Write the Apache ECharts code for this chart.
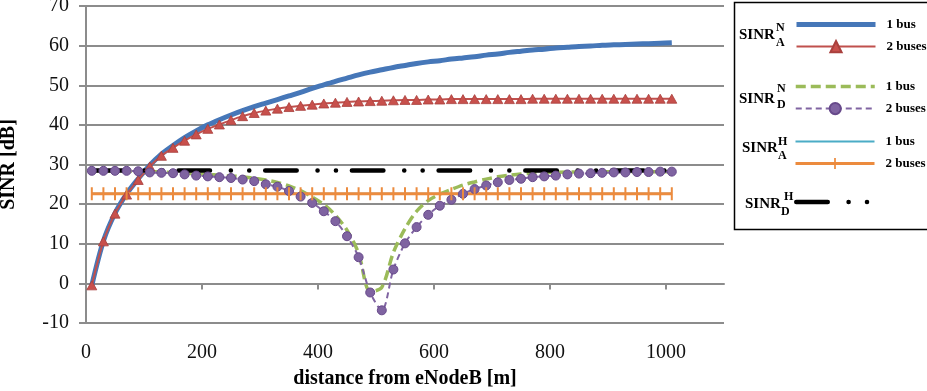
<!DOCTYPE html>
<html>
<head>
<meta charset="utf-8">
<script src="https://cdn.jsdelivr.net/npm/echarts@6/dist/echarts.min.js"></script>
<style>
  html, body { margin: 0; padding: 0; background: #fff; }
  #chart { width: 927px; height: 391px; }
</style>
</head>
<body>
<div id="chart"></div>
<script>
// distance from eNodeB [m]
const distance = [10, 30, 50, 70, 90, 110, 130, 150, 170, 190, 210, 230, 250, 270, 290, 310, 330, 350, 370, 390,
  410, 430, 450, 470, 490, 510, 530, 550, 570, 590, 610, 630, 650, 670, 690, 710, 730, 750, 770, 790,
  810, 830, 850, 870, 890, 910, 930, 950, 970, 990, 1010]

const xTicks = [0, 200, 400, 600, 800, 1000]

// SINR values [dB]
const sinrAN1 = [-0.5, 10.7, 17.7, 22.6, 26.4, 29.8, 32.6, 34.8, 36.8, 38.5, 40.0, 41.3, 42.5, 43.6, 44.6, 45.5, 46.4, 47.3, 48.2, 49.2,
  50.1, 51.0, 51.8, 52.6, 53.3, 53.9, 54.5, 55.0, 55.5, 55.9, 56.2, 56.6, 56.9, 57.2, 57.6, 57.9, 58.3, 58.6, 58.9, 59.1,
  59.4, 59.6, 59.8, 59.9, 60.1, 60.2, 60.3, 60.4, 60.5, 60.6, 60.7]
const sinrAN2 = [-0.5, 10.6, 17.6, 22.4, 26.1, 29.5, 32.2, 34.2, 36.0, 37.6, 39.0, 40.1, 41.2, 42.2, 43.0, 43.6, 44.1, 44.5, 44.8, 45.1,
  45.4, 45.6, 45.8, 45.9, 46.0, 46.1, 46.2, 46.3, 46.3, 46.4, 46.4, 46.5, 46.5, 46.5, 46.5, 46.5, 46.5, 46.5, 46.6, 46.6,
  46.6, 46.6, 46.6, 46.6, 46.6, 46.6, 46.6, 46.6, 46.6, 46.6, 46.6]
const sinrDN1 = [28.4, 28.4, 28.4, 28.3, 28.3, 28.2, 28.1, 28.0, 27.8, 27.7, 27.5, 27.3, 27.1, 26.9, 26.5, 26.1, 25.5, 24.6, 23.4, 21.8,
  19.9, 17.2, 13.4, 7.6, -2.1, -1.0, 7.8, 13.8, 18.2, 20.9, 22.5, 23.7, 24.8, 25.6, 26.3, 26.9, 27.3, 27.6, 27.8, 27.9,
  28.0, 28.1, 28.1, 28.1, 28.2, 28.2, 28.2, 28.2, 28.2, 28.2, 28.2]
const sinrDN2 = [28.4, 28.4, 28.4, 28.4, 28.3, 28.0, 27.9, 27.8, 27.5, 27.2, 27.0, 26.8, 26.6, 26.2, 25.8, 25.0, 24.4, 23.3, 21.9, 20.3,
  18.2, 15.7, 11.9, 6.6, -2.3, -6.8, 3.5, 10.1, 14.2, 17.3, 19.6, 21.1, 22.6, 23.8, 24.7, 25.5, 26.1, 26.4, 26.8, 27.0,
  27.2, 27.5, 27.7, 27.8, 27.9, 28.0, 28.0, 28.1, 28.1, 28.2, 28.2]
const sinrAH1 = [22.6, 22.6, 22.6, 22.6, 22.6, 22.6, 22.6, 22.6, 22.6, 22.6, 22.6, 22.6, 22.6, 22.6, 22.6, 22.6, 22.6, 22.6, 22.6, 22.6,
  22.6, 22.6, 22.6, 22.6, 22.6, 22.6, 22.6, 22.6, 22.6, 22.6, 22.6, 22.6, 22.6, 22.6, 22.6, 22.6, 22.6, 22.6, 22.6, 22.6,
  22.6, 22.6, 22.6, 22.6, 22.6, 22.6, 22.6, 22.6, 22.6, 22.6, 22.6]
const sinrAH2 = [22.6, 22.6, 22.6, 22.6, 22.6, 22.6, 22.6, 22.6, 22.6, 22.6, 22.6, 22.6, 22.6, 22.6, 22.6, 22.6, 22.6, 22.6, 22.6, 22.6,
  22.6, 22.6, 22.6, 22.6, 22.6, 22.6, 22.6, 22.6, 22.6, 22.6, 22.6, 22.6, 22.6, 22.6, 22.6, 22.6, 22.6, 22.6, 22.6, 22.6,
  22.6, 22.6, 22.6, 22.6, 22.6, 22.6, 22.6, 22.6, 22.6, 22.6, 22.6]
const sinrDH = [28.5, 28.5, 28.5, 28.5, 28.5, 28.5, 28.5, 28.5, 28.5, 28.5, 28.5, 28.5, 28.5, 28.5, 28.5, 28.5, 28.5, 28.5, 28.5, 28.5,
  28.5, 28.5, 28.5, 28.5, 28.5, 28.5, 28.5, 28.5, 28.5, 28.5, 28.5, 28.5, 28.5, 28.5, 28.5, 28.5, 28.5, 28.5, 28.5, 28.5,
  28.5, 28.5, 28.5, 28.5, 28.5, 28.5, 28.5, 28.5, 28.5, 28.5, 28.5]

const legendText = {
  'AN 1': '1 bus', 'AN 2': '2 buses',
  'DN 1': '1 bus', 'DN 2': '2 buses',
  'AH 1': '1 bus', 'AH 2': '2 buses',
  'DH': ''
}

const serif = '"Liberation Serif", "Times New Roman", serif'
const gridGray = '#8c8c8c'

const pairs = (vals) => distance.map((d, i) => [d, vals[i]])

const chart = echarts.init(document.getElementById('chart'))

// one legend block per SINR group, the symbol is hidden for plain lines
const legendBlock = (top, items) => ({
  orient: 'vertical',
  left: 794,
  top: top,
  padding: 0,
  itemWidth: 79,
  itemHeight: 14,
  itemGap: 9,
  selectedMode: false,
  lineStyle: { width: 'inherit' },
  data: items.map(([name, marker]) => marker ? { name } : { name, itemStyle: { opacity: 0 } }),
  formatter: (name) => legendText[name],
  textStyle: { fontFamily: serif, fontWeight: 'bold', fontSize: 13, color: '#000', padding: [0, 0, 0, 6] }
})

const label = (text, x, y, size) => ({
  type: 'text',
  style: { text, x, y, font: 'bold ' + size + 'px ' + serif, fill: '#000', align: 'left', verticalAlign: 'middle' }
})

const option = {
  animation: false,
  grid: { left: 86, right: 203, top: 6, bottom: 68, containLabel: false, outerBoundsMode: 'none' },
  xAxis: [
    {
      type: 'value', min: 0, max: 1100, interval: 200,
      axisLine: { onZero: true, lineStyle: { color: gridGray, width: 2 } },
      axisTick: { show: true, length: 6, customValues: xTicks, lineStyle: { color: gridGray, width: 2 } },
      axisLabel: { show: false },
      splitLine: { show: false }
    },
    {
      type: 'value', min: 0, max: 1100, interval: 200, position: 'bottom',
      axisLine: { show: false, onZero: false },
      axisTick: { show: false },
      axisLabel: {
        customValues: xTicks, margin: 20, fontFamily: serif, fontSize: 20, color: '#111',
        formatter: (v) => String(v)
      },
      splitLine: { show: false },
      name: 'distance from eNodeB [m]',
      nameLocation: 'middle',
      nameGap: 46,
      nameTextStyle: { fontFamily: serif, fontSize: 20, fontWeight: 'bold', color: '#000' }
    }
  ],
  yAxis: {
    type: 'value', min: -10, max: 70, interval: 10,
    axisLine: { show: true, lineStyle: { color: gridGray, width: 2 } },
    axisTick: { show: true, length: 7, lineStyle: { color: gridGray, width: 2 } },
    axisLabel: { margin: 17, fontFamily: serif, fontSize: 20, color: '#111' },
    splitLine: { show: true, lineStyle: { color: gridGray, width: 2 } },
    name: 'SINR [dB]',
    nameLocation: 'middle',
    nameGap: 67,
    nameTextStyle: { fontFamily: serif, fontSize: 20, fontWeight: 'bold', color: '#000' }
  },
  legend: [
    legendBlock(18, [['AN 1', false], ['AN 2', true]]),
    legendBlock(80, [['DN 1', false], ['DN 2', true]]),
    legendBlock(135, [['AH 1', false], ['AH 2', true]]),
    legendBlock(195, [['DH', false]])
  ],
  graphic: [
    { type: 'rect', shape: { x: 734.5, y: 2.5, width: 200, height: 227 }, style: { fill: '#fff', stroke: '#000', lineWidth: 1.5 }, z: -10 },
    label('SINR', 739, 35, 15), label('N', 776, 28, 12), label('A', 776, 43, 12),
    label('SINR', 739, 99, 15), label('N', 777, 89, 12), label('D', 777, 105, 12),
    label('SINR', 742, 148.5, 15), label('H', 778, 142, 12), label('A', 778, 155.5, 12),
    label('SINR', 745, 204, 15), label('H', 784, 197, 12), label('D', 781, 212, 12)
  ],
  series: [
    {
      name: 'AN 1', type: 'line', data: pairs(sinrAN1), smooth: 0.3,
      symbol: 'none', color: '#4677b8',
      lineStyle: { width: 5, color: '#4677b8' }
    },
    {
      name: 'AN 2', type: 'line', data: pairs(sinrAN2), smooth: 0.3,
      symbol: 'triangle', symbolSize: [10, 9], color: '#c0504d',
      lineStyle: { width: 2, color: '#c0504d' },
      itemStyle: { color: '#c8504c', borderColor: '#a9403d', borderWidth: 0.8 }
    },
    {
      name: 'DN 1', type: 'line', data: pairs(sinrDN1), smooth: 0.3,
      symbol: 'none', color: '#9bbb59',
      lineStyle: { width: 3.5, color: '#9bbb59', type: [10, 5] }
    },
    {
      name: 'DN 2', type: 'line', data: pairs(sinrDN2), smooth: 0.3,
      symbol: 'circle', symbolSize: 9, color: '#8064a2',
      lineStyle: { width: 2, color: '#8064a2', type: [6, 4] },
      itemStyle: { color: '#7f63a1', borderColor: '#67498a', borderWidth: 1 }
    },
    {
      name: 'AH 1', type: 'line', data: pairs(sinrAH1),
      symbol: 'none', color: '#4bacc6',
      lineStyle: { width: 2, color: '#4bacc6' }
    },
    {
      name: 'AH 2', type: 'line', data: pairs(sinrAH2),
      symbol: 'path://M0,0L13,13L0,0ZM5.5,0L7.5,0L7.5,13L5.5,13Z', symbolSize: 13, color: '#ec8b3e',
      lineStyle: { width: 3, color: '#ec8b3e' },
      itemStyle: { color: '#ec8b3e', borderWidth: 0 }
    },
    {
      // drawn over the purple markers
      name: 'DH', type: 'line', data: pairs(sinrDH), z: 3,
      symbol: 'none', color: '#000',
      lineStyle: { width: 4.5, color: '#000', type: [31.5, 20.8, 0.1, 18.3, 0.1, 15.9], cap: 'round' }
    }
  ]
}

chart.setOption(option)
</script>
</body>
</html>
